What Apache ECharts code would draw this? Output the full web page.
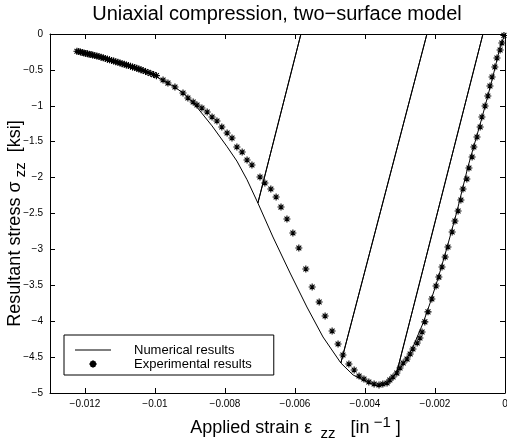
<!DOCTYPE html>
<html><head><meta charset="utf-8">
<script src="https://cdn.jsdelivr.net/npm/echarts@6/dist/echarts.min.js"></script>
<style>html,body{margin:0;padding:0;background:#fff}#c{width:507px;height:444px}</style>
</head><body><div id="c"></div>
<script>
// Numerical results (path in traversal order, incl. unload/reload branches)
const numStrain = [-0.01223,-0.01177,-0.01129,-0.0108,-0.01034,-0.00994,-0.00943,-0.0091,-0.0088,-0.00837,-0.00794,-0.00766,-0.00737,-0.00706,
  -0.00583,-0.00706,
  -0.00663,-0.00614,-0.00566,-0.0052,-0.00469,
  -0.00223,-0.00469,
  -0.00434,-0.00394,-0.00363,-0.00337,-0.00309,
  -0.00063,-0.00309,
  -0.00286,-0.00263,-0.00234,-0.00214,-0.00191,-0.00166,-0.00137,-0.00106,-0.00066,-0.00037,-0.00014,0];
const numStress = [-0.24,-0.29,-0.36,-0.43,-0.51,-0.60,-0.74,-0.86,-1.02,-1.28,-1.57,-1.77,-2.03,-2.354,
  0,-2.354,
  -2.827,-3.329,-3.802,-4.22,-4.582,
  0,-4.582,
  -4.749,-4.847,-4.903,-4.861,-4.708,
  0,-4.708,
  -4.568,-4.36,-4.025,-3.747,-3.399,-2.981,-2.465,-1.852,-1.17,-0.641,-0.181,0];
// Experimental results
const expStrain = [-0.01223,-0.01218,-0.01213,-0.01208,-0.01203,-0.01198,-0.01193,-0.01188,-0.01183,-0.01178,-0.01172,-0.01166,-0.0116,-0.01154,-0.01148,-0.01142,-0.01136,-0.0113,-0.01124,-0.01118,-0.01112,-0.01106,-0.011,-0.01094,-0.01088,-0.01082,-0.01076,-0.0107,-0.01064,-0.01058,-0.01052,-0.01046,-0.0104,-0.01034,-0.01027,-0.0102,-0.01012,-0.01004,-0.00996,
  -0.00977,-0.00963,-0.00943,-0.0092,-0.00906,-0.00891,-0.0088,-0.00866,-0.00851,-0.00837,-0.00823,-0.00809,-0.00794,-0.0078,-0.00766,-0.00751,-0.00737,-0.00723,-0.007,-0.00686,-0.00669,-0.00654,-0.0064,-0.00623,-0.00606,-0.00589,-0.00569,-0.00551,-0.00531,-0.00514,-0.00494,-0.00477,-0.00463,-0.00446,-0.00431,-0.00417,-0.00403,-0.00389,-0.00374,-0.0036,-0.00349,-0.00337,-0.00329,-0.0032,-0.00309,-0.003,-0.00291,-0.0028,-0.00271,-0.00263,-0.00251,-0.00243,-0.00237,-0.00229,-0.0022,-0.00209,-0.00197,-0.00189,-0.0018,-0.00171,-0.00163,-0.00151,-0.00143,-0.00134,-0.00126,-0.0012,-0.00109,-0.00103,-0.00094,-0.00089,-0.0008,-0.00071,-0.00066,-0.00057,-0.00049,-0.00043,-0.00037,-0.00029,-0.00023,-0.00014,-0.00009,-0.00003];
const expStress = [-0.24,-0.245,-0.25,-0.258,-0.263,-0.27,-0.275,-0.281,-0.287,-0.293,-0.30,-0.307,-0.315,-0.324,-0.332,-0.34,-0.35,-0.36,-0.368,-0.377,-0.386,-0.395,-0.404,-0.413,-0.422,-0.431,-0.44,-0.449,-0.458,-0.468,-0.478,-0.488,-0.498,-0.51,-0.522,-0.535,-0.55,-0.565,-0.58,
  -0.641,-0.683,-0.738,-0.822,-0.891,-0.947,-0.989,-1.031,-1.086,-1.156,-1.212,-1.295,-1.379,-1.448,-1.574,-1.644,-1.755,-1.825,-1.992,-2.075,-2.159,-2.27,-2.41,-2.577,-2.772,-2.981,-3.273,-3.524,-3.733,-3.928,-4.137,-4.318,-4.471,-4.596,-4.68,-4.763,-4.805,-4.847,-4.875,-4.889,-4.875,-4.861,-4.819,-4.777,-4.722,-4.652,-4.582,-4.527,-4.457,-4.387,-4.304,-4.234,-4.15,-4.01,-3.87,-3.69,-3.51,-3.385,-3.245,-3.106,-2.967,-2.758,-2.605,-2.465,-2.312,-2.159,-2.02,-1.866,-1.713,-1.574,-1.435,-1.295,-1.156,-1.003,-0.864,-0.724,-0.599,-0.46,-0.334,-0.223,-0.125,-0.02];
const xTickValues = [-0.012,-0.01,-0.008,-0.006,-0.004,-0.002,0];
const xTickLabels = ['\u22120.012','\u22120.01','\u22120.008','\u22120.006','\u22120.004','\u22120.002','0'];
const yTickValues = [0,-0.5,-1,-1.5,-2,-2.5,-3,-3.5,-4,-4.5,-5];
const yTickLabels = ['0','\u22120.5','\u22121','\u22121.5','\u22122','\u22122.5','\u22123','\u22123.5','\u22124','\u22124.5','\u22125'];
const seriesNames = ['Numerical results','Experimental results'];
const titleText = 'Uniaxial compression, two\u2212surface model';

const FONT = 'Liberation Sans, Arial, Helvetica, sans-serif';
const numData = numStrain.map((x,i)=>[x,numStress[i]]);
const expData = expStrain.map((x,i)=>[x,expStress[i]]);
const asterisk = 'path://M0,5L10,5M5,0L5,10M1.5,1.5L8.5,8.5M1.5,8.5L8.5,1.5';

const xLab = v => { const i = xTickValues.findIndex(t=>Math.abs(t-v)<1e-9); return i>=0?xTickLabels[i]:''; };
const yLab = v => { const i = yTickValues.findIndex(t=>Math.abs(t-v)<1e-9); return i>=0?yTickLabels[i]:''; };
const axisCommon = {
  axisLine:{show:true,onZero:false,lineStyle:{color:'#000',width:1}},
  splitLine:{show:false}
};
const chart = echarts.init(document.getElementById('c'), null, {renderer:'canvas'});
chart.setOption({
  animation:false,
  backgroundColor:'#fff',
  textStyle:{fontFamily:FONT},
  title:{text:titleText,left:277,top:4,textAlign:'center',padding:0,
    textStyle:{fontFamily:FONT,fontSize:20,fontWeight:'normal',color:'#000'}},
  grid:{left:50,right:2,top:34,bottom:51,containLabel:false,outerBoundsMode:'none'},
  legend:{
    orient:'vertical',left:64,top:335,
    padding:[8,22,4,11],itemGap:0,
    itemWidth:36,itemHeight:7,
    borderColor:'#000',borderWidth:1,backgroundColor:'#fff',
    data:[{name:seriesNames[0],icon:'path://M0,0L36,0L36,1L0,1Z'},{name:seriesNames[1]}],
    textStyle:{fontFamily:FONT,fontSize:13,color:'#000',lineHeight:14,padding:[0,0,0,18]}
  },
  xAxis:[
    Object.assign({type:'value',min:-0.013,max:0,position:'bottom',
      axisTick:{show:true,inside:true,length:5,customValues:xTickValues,lineStyle:{color:'#000'}},
      axisLabel:{show:true,customValues:xTickValues,formatter:xLab,margin:6,fontFamily:FONT,fontSize:10,color:'#000'},
      name:'{t|Applied strain ε}{sub|  zz}{t|   [in}{sup| \u22121}{t| ]}',
      nameLocation:'middle',nameGap:22,nameMoveOverlap:false,
      nameTextStyle:{fontFamily:FONT,color:'#000',padding:[0,0,0,36],
        rich:{t:{fontFamily:FONT,fontSize:18,lineHeight:26,color:'#000'},
              sub:{fontFamily:FONT,fontSize:15,lineHeight:14,verticalAlign:'bottom',color:'#000'},
              sup:{fontFamily:FONT,fontSize:15,lineHeight:14,verticalAlign:'top',color:'#000'}}}
    },axisCommon),
    Object.assign({type:'value',min:-0.013,max:0,position:'top',
      axisTick:{show:true,inside:true,length:5,customValues:xTickValues,lineStyle:{color:'#000'}},
      axisLabel:{show:false}},axisCommon)
  ],
  yAxis:[
    Object.assign({type:'value',min:-5,max:0,interval:0.5,position:'left',
      axisTick:{show:true,inside:true,length:5,lineStyle:{color:'#000'}},
      axisLabel:{show:true,formatter:yLab,margin:7,fontFamily:FONT,fontSize:10,color:'#000'},
      name:'{t|Resultant stress σ}{sub| zz}{t|  [ksi]}',
      nameLocation:'middle',nameRotate:90,nameGap:22,nameMoveOverlap:false,
      nameTextStyle:{fontFamily:FONT,color:'#000',padding:[0,20,0,0],
        rich:{t:{fontFamily:FONT,fontSize:18,lineHeight:26,color:'#000'},
              sub:{fontFamily:FONT,fontSize:15,lineHeight:14,verticalAlign:'bottom',color:'#000'}}}
    },axisCommon),
    Object.assign({type:'value',min:-5,max:0,interval:0.5,position:'right',
      axisTick:{show:true,inside:true,length:5,lineStyle:{color:'#000'}},
      axisLabel:{show:false}},axisCommon)
  ],
  series:[
    {name:seriesNames[0],type:'line',data:numData,symbol:'none',smooth:false,
      lineStyle:{color:'#000',width:1},itemStyle:{color:'#000'},z:2},
    {name:seriesNames[1],type:'scatter',data:expData,symbol:asterisk,symbolSize:7,
      itemStyle:{color:'transparent',borderColor:'#000',borderWidth:1.1,opacity:1},z:3}
  ]
});
</script></body></html>
